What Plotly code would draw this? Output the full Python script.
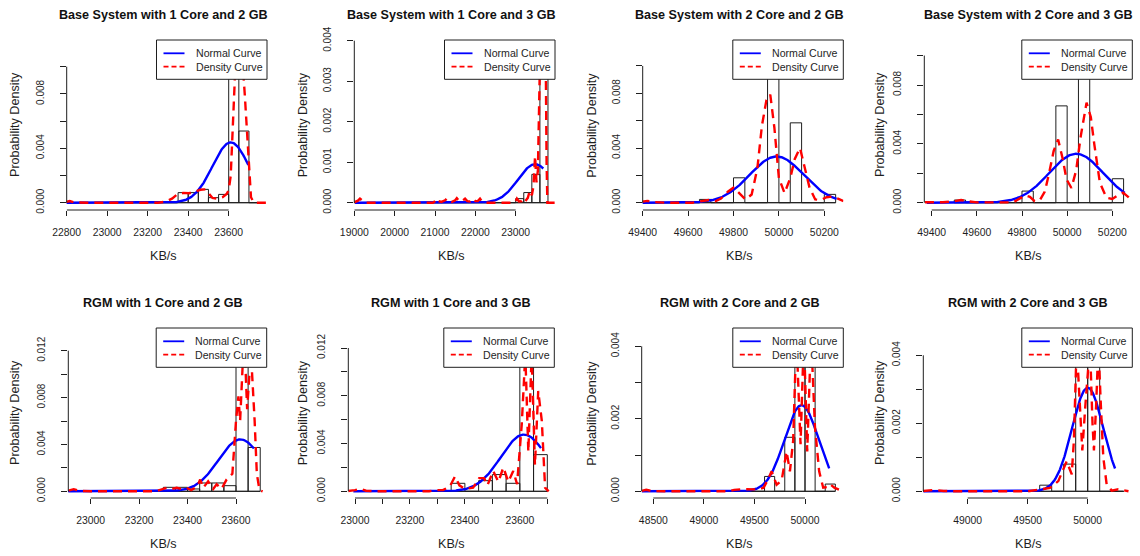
import numpy as np
import plotly.graph_objects as go

W, H = 1140, 556
FONT = "Liberation Sans, Arial, Helvetica, sans-serif"
INK = "#1e1e1e"
BLUE = "#0000ff"
RED = "#ff0000"

titles = [
    "Base System with 1 Core and 2 GB",
    "Base System with 1 Core and 3 GB",
    "Base System with 2 Core and 2 GB",
    "Base System with 2 Core and 3 GB",
    "RGM with 1 Core and 2 GB",
    "RGM with 1 Core and 3 GB",
    "RGM with 2 Core and 2 GB",
    "RGM with 2 Core and 3 GB",
]

# Histogram: first break, bin width and density of each bin
hist_start = [22800, 19000, 49400, 49500, 22900, 23000, 48400, 48600]
hist_width = [50, 200, 50, 50, 50, 50, 100, 100]

hist_b12 = [0] * 11 + [0.00074, 0.00074, 0.00098, 0.00037, 0.00061, 0.01129, 0.00527, 0]
hist_b13 = [0] * 20 + [0.0001, 0.00025, 0.0007, 0.0039]
hist_b22 = [0, 0, 0, 0, 0, 0.00024, 0, 0, 0.00182, 0, 0, 0.01149, 0, 0.00584, 0, 0, 0.00061]
hist_b23 = [0.00018, 0, 0, 0, 0, 0, 0.00079, 0, 0, 0.00658, 0, 0.01082, 0, 0, 0.00163]
hist_r12 = [0] * 8 + [0.00034, 0.00034, 0.0002, 0.00071, 0.00071, 0.00048, 0.0135, 0.00374]
hist_r13 = [0] * 7 + [0.00067, 0, 0.00089, 0.0014, 0.00067, 0.0133, 0.00307]
hist_r22 = [0] * 12 + [0.00041, 0, 0.00149, 0.0043, 0.0036, 0, 0.0002]
hist_r23 = [0] * 10 + [0.00018, 0, 0.0008, 0.0046, 0.0044, 0, 0]

# Normal curve parameters and the span it is drawn over
norm_mean = [23610, 23480, 49990, 50040, 23618, 23615, 49966, 50000]
norm_sd = [90, 420, 118, 120, 90, 84, 168, 131]
norm_from = [22792, 19017, 49390, 49378, 22905, 22994, 48385, 48630]
norm_to = [23697, 23684, 50254, 50255, 23674, 23677, 50239, 50228]

# Kernel density curves
dens_x_b12 = [22790, 22815, 22840, 22900, 23250, 23290, 23320, 23345, 23375, 23405, 23430,
              23460, 23485, 23505, 23520, 23545, 23570, 23590, 23600, 23610, 23620, 23628,
              23640, 23655, 23668, 23680, 23692, 23700, 23710, 23725, 23790]
dens_y_b12 = [0.00002, 0.00012, 0.00002, 0.0, 0.0, 0.00008, 0.0003, 0.0006, 0.00072, 0.0007,
              0.0008, 0.00095, 0.00098, 0.0006, 0.00035, 0.00028, 0.0004, 0.00065, 0.0009,
              0.002, 0.0055, 0.0095, 0.0125, 0.0125, 0.0105, 0.0078, 0.0047, 0.0022, 0.0004,
              0.0, 0.0]

dens_x_b13 = [19000, 19090, 19140, 19190, 19260, 20950, 21000, 21040, 21090, 21160, 21250,
              21290, 21340, 21420, 21500, 21540, 21590, 21660, 21710, 21745, 21800, 21870,
              21920, 21950, 22000, 22060, 22115, 22170, 22300, 22950, 23000, 23030, 23080,
              23150, 23190, 23240, 23300, 23350, 23400, 23440, 23480, 23515, 23550, 23580,
              23605, 23620, 23700, 23745, 23765, 23785, 23970]
dens_y_b13 = [0.00001, 0.00005, 0.0001, 0.00005, 0.0, 0.0, 0.00004, 0.0001, 0.00004, 0.00002,
              0.00006, 0.0001, 0.00004, 0.00002, 0.00006, 0.00011, 0.00005, 0.00003, 0.00007,
              0.0001, 0.00004, 0.00003, 0.00007, 0.0001, 0.00004, 0.00004, 0.0001, 0.00002,
              0.0, 0.0, 0.00004, 0.0001, 0.00003, 0.00004, 0.0001, 0.00004, 0.00012, 0.0003,
              0.00018, 0.0004, 0.00115, 0.0005, 0.0008, 0.0022, 0.0034, 0.0045, 0.0048,
              0.0035, 0.001, 0.0, 0.0]

dens_x_b22 = [49390, 49420, 49450, 49500, 49620, 49660, 49690, 49720, 49745, 49775, 49800,
              49825, 49853, 49880, 49905, 49925, 49945, 49962, 49980, 50000, 50025, 50050,
              50070, 50093, 50115, 50135, 50160, 50185, 50210, 50235, 50260, 50285]
dens_y_b22 = [0.00005, 0.00013, 0.00005, 0.0, 0.0, 0.00012, 0.0002, 0.0001, 0.0003, 0.0008,
              0.0011, 0.0007, 0.00024, 0.0006, 0.0025, 0.0056, 0.0075, 0.0079, 0.0055, 0.0018,
              0.0007, 0.0018, 0.0032, 0.004, 0.0025, 0.0011, 0.00024, 0.0002, 0.0004, 0.00045,
              0.0003, 0.00012]

dens_x_b23 = [49370, 49450, 49500, 49530, 49560, 49600, 49760, 49790, 49815, 49835, 49856,
              49880, 49901, 49920, 49940, 49960, 49980, 49997, 50019, 50040, 50060, 50086,
              50105, 50120, 50145, 50174, 50200, 50225, 50248, 50270, 50290]
dens_y_b23 = [0.00003, 0.00003, 0.0001, 0.00018, 0.0001, 0.00002, 0.00002, 0.0003, 0.0005,
              0.0004, 0.0001, 0.0002, 0.00075, 0.002, 0.0035, 0.0043, 0.003, 0.0016, 0.001,
              0.0022, 0.0045, 0.0068, 0.0058, 0.004, 0.00136, 0.00034, 0.00025, 0.0005,
              0.00068, 0.0004, 0.0001]

dens_x_r12 = [22908, 22930, 22955, 23000, 23270, 23295, 23315, 23335, 23355, 23375, 23395,
              23415, 23440, 23452, 23465, 23485, 23506, 23520, 23540, 23561, 23575, 23585,
              23600, 23610, 23617, 23628, 23638, 23646, 23656, 23666, 23677, 23686, 23697,
              23710]
dens_y_r12 = [0.00005, 0.00018, 0.00004, 0.0, 0.0, 0.0002, 0.0003, 0.0002, 0.0003, 0.0002,
              0.0003, 0.0001, 0.0004, 0.001, 0.0003, 0.00085, 0.0002, 0.0006, 0.0002, 0.001,
              0.0013, 0.0015, 0.006, 0.0081, 0.006, 0.011, 0.0112, 0.007, 0.0101, 0.0102,
              0.006, 0.0015, 0.0001, 0.0]

dens_x_r13 = [22975, 23000, 23018, 23040, 23080, 23270, 23297, 23320, 23345, 23364, 23380,
              23400, 23430, 23452, 23470, 23482, 23503, 23522, 23540, 23558, 23576, 23590,
              23607, 23620, 23631, 23643, 23655, 23667, 23680, 23692, 23705]
dens_y_r13 = [0.00003, 0.0001, 0.00022, 0.00005, 0.0, 0.0, 0.0001, 0.0001, 0.0004, 0.00125,
              0.0005, 0.0002, 0.0003, 0.0011, 0.0011, 0.0005, 0.0017, 0.0008, 0.002, 0.0008,
              0.0017, 0.0006, 0.0056, 0.0115, 0.0033, 0.0115, 0.0022, 0.0084, 0.0059, 0.0003,
              0.0]

dens_x_r22 = [48385, 48430, 48480, 48600, 49250, 49300, 49400, 49470, 49540, 49590, 49630,
              49670, 49719, 49769, 49818, 49851, 49883, 49915, 49956, 49989, 50022, 50060,
              50098, 50140, 50180, 50215, 50246, 50290, 50340, 50378]
dens_y_r22 = [0.00001, 0.00004, 0.00001, 0.0, 0.0, 0.00004, 0.00006, 0.00005, 0.00005,
              0.0001, 0.0003, 0.00055, 0.00018, 0.0003, 0.0011, 0.00055, 0.0014, 0.0043,
              0.0013, 0.0043, 0.0011, 0.0043, 0.0018, 0.00055, 0.0001, 0.00012, 0.0002,
              0.0001, 0.00003, 0.0]

dens_x_r23 = [48630, 48720, 48800, 48900, 49500, 49600, 49686, 49755, 49825, 49867, 49885,
              49908, 49935, 49955, 49980, 50019, 50040, 50052, 50070, 50089, 50110, 50130,
              50158, 50200, 50255, 50300, 50340]
dens_y_r23 = [0.00001, 0.00004, 0.00001, 0.0, 0.0, 0.00005, 0.0001, 0.0003, 0.00088, 0.0005,
              0.0015, 0.0043, 0.0025, 0.0012, 0.0025, 0.0043, 0.002, 0.0012, 0.0025, 0.0043,
              0.0025, 0.001, 0.0002, 0.00002, 0.00006, 0.00002, 0.0]

# Axis ticks and their labels
xticks = [
    [22800, 23000, 23200, 23400, 23600],
    [19000, 20000, 21000, 22000, 23000],
    [49400, 49600, 49800, 50000, 50200],
    [49400, 49600, 49800, 50000, 50200],
    [23000, 23200, 23400, 23600],
    [23000, 23100, 23200, 23300, 23400, 23500, 23600, 23700],
    [48500, 49000, 49500, 50000],
    [49000, 49500, 50000],
]
xlabels = [
    ["22800", "23000", "23200", "23400", "23600"],
    ["19000", "20000", "21000", "22000", "23000"],
    ["49400", "49600", "49800", "50000", "50200"],
    ["49400", "49600", "49800", "50000", "50200"],
    ["23000", "23200", "23400", "23600"],
    ["23000", "", "23200", "", "23400", "", "23600", ""],
    ["48500", "49000", "49500", "50000"],
    ["49000", "49500", "50000"],
]
yticks_10 = [0, 0.002, 0.004, 0.006, 0.008, 0.010]
ylabels_10 = ["0.000", "", "0.004", "", "0.008", ""]
yticks_4 = [0, 0.001, 0.002, 0.003, 0.004]
ylabels_4a = ["0.000", "0.001", "0.002", "0.003", "0.004"]
ylabels_4b = ["0.000", "", "0.002", "", "0.004"]
yticks_12 = [0, 0.002, 0.004, 0.006, 0.008, 0.010, 0.012]
ylabels_12 = ["0.000", "", "0.004", "", "0.008", "", "0.012"]

hists = [hist_b12, hist_b13, hist_b22, hist_b23, hist_r12, hist_r13, hist_r22, hist_r23]
dens = [(dens_x_b12, dens_y_b12), (dens_x_b13, dens_y_b13), (dens_x_b22, dens_y_b22),
        (dens_x_b23, dens_y_b23), (dens_x_r12, dens_y_r12), (dens_x_r13, dens_y_r13),
        (dens_x_r22, dens_y_r22), (dens_x_r23, dens_y_r23)]
yticks = [yticks_10, yticks_4, yticks_10, yticks_10, yticks_12, yticks_12, yticks_4, yticks_4]
ylabels = [ylabels_10, ylabels_4a, ylabels_10, ylabels_10, ylabels_12, ylabels_12,
           ylabels_4b, ylabels_4b]

# ---- page geometry (pixels) ----
# plot box: left, right, top, bottom; axis calibration: value/pixel pairs
boxes = [
    (66.7, 267.0, 40, 210), (354.3, 555.0, 40, 210), (642.7, 843.3, 40, 210),
    (924.3, 1132.3, 40, 210), (68.3, 266.7, 328, 498), (348.3, 554.3, 328, 498),
    (641.7, 843.3, 328, 498), (923.3, 1132.3, 328, 498),
]
xcal = [
    (22800, 66.7, 23600, 228.7), (19000, 354.3, 23000, 515.7), (49400, 642.7, 50200, 824.3),
    (49400, 931.7, 50200, 1112.3), (23000, 90.7, 23600, 236.0), (23000, 355.0, 23700, 547.3),
    (48500, 653.3, 50000, 805.0), (49000, 967.7, 50000, 1087.7),
]
ycal = [
    (0, 202.7, 0.010, 66.7), (0, 202.7, 0.004, 40.7), (0, 202.7, 0.008, 93.3),
    (0, 202.7, 0.008, 85.0), (0, 491.3, 0.012, 350.7), (0, 491.3, 0.012, 348.0),
    (0, 491.3, 0.004, 346.3), (0, 491.3, 0.004, 355.3),
]
col_center = [163, 451, 739.5, 1028]
ylab_x = [15, 303.3, 591.7, 880]
row_title_y = [15, 303]
row_xlab_y = [256, 544]
row_ylab_y = [125, 413]
LEG_W, LEG_H = 110.5, 39.3


def px(x):
    return x / W


def py(y):
    return 1 - y / H


def calib(c, p):
    v0, p0, v1, p1 = c
    return v0 + (p - p0) * (v1 - v0) / (p1 - p0)


fig = go.Figure()
shapes, annots = [], []
layout = dict(
    width=W, height=H, margin=dict(l=0, r=0, t=0, b=0, autoexpand=False),
    paper_bgcolor="white", plot_bgcolor="white", showlegend=False,
    font=dict(family=FONT, color=INK),
)

for i in range(8):
    n = i + 1
    xr = "x" if n == 1 else f"x{n}"
    yr = "y" if n == 1 else f"y{n}"
    xk = "xaxis" if n == 1 else f"xaxis{n}"
    yk = "yaxis" if n == 1 else f"yaxis{n}"
    l, r, t, b = boxes[i]
    col, row = i % 4, i // 4

    # histogram bars
    start, width = hist_start[i], hist_width[i]
    heights = hists[i]
    centers = [start + width * (k + 0.5) for k in range(len(heights))]
    fig.add_trace(go.Bar(
        x=centers, y=heights, width=width, xaxis=xr, yaxis=yr,
        marker=dict(color="rgba(0,0,0,0)", line=dict(color=INK, width=1)),
        hoverinfo="skip",
    ))
    shapes.append(dict(type="line", xref=xr, yref=yr, x0=start,
                       x1=start + width * len(heights), y0=0, y1=0,
                       line=dict(color=INK, width=1), layer="below"))

    # fitted normal curve
    xs = np.linspace(norm_from[i], norm_to[i], 300)
    mu, sd = norm_mean[i], norm_sd[i]
    ys = np.exp(-0.5 * ((xs - mu) / sd) ** 2) / (sd * np.sqrt(2 * np.pi))
    fig.add_trace(go.Scatter(x=xs, y=ys, mode="lines", xaxis=xr, yaxis=yr,
                             line=dict(color=BLUE, width=2.4), hoverinfo="skip"))

    # kernel density curve
    dx, dy = dens[i]
    fig.add_trace(go.Scatter(x=dx, y=dy, mode="lines", xaxis=xr, yaxis=yr,
                             line=dict(color=RED, width=2.4, dash="9px,6px"),
                             hoverinfo="skip"))

    layout[xk] = dict(
        domain=[px(l), px(r)], range=[calib(xcal[i], l), calib(xcal[i], r)],
        anchor=yr, automargin=False, tickmode="array", tickvals=xticks[i],
        ticktext=xlabels[i], ticks="outside", ticklen=5, tickwidth=1, tickcolor=INK,
        showline=False, showgrid=False, zeroline=False,
        tickfont=dict(size=10.4, color=INK, family=FONT), ticklabelstandoff=8,
    )
    layout[yk] = dict(
        domain=[py(b), py(t)], range=[calib(ycal[i], b), calib(ycal[i], t)],
        anchor=xr, automargin=False, tickmode="array", tickvals=yticks[i],
        ticktext=ylabels[i], ticks="outside", ticklen=6, tickwidth=1, tickcolor=INK,
        tickangle=-90, showline=False, showgrid=False, zeroline=False,
        tickfont=dict(size=10, color=INK, family=FONT), ticklabelstandoff=12,
    )

    # detached axis lines spanning the tick range
    shapes.append(dict(type="line", xref=xr, yref=f"{yr} domain",
                       x0=xticks[i][0], x1=xticks[i][-1], y0=0, y1=0,
                       line=dict(color=INK, width=1)))
    shapes.append(dict(type="line", xref=f"{xr} domain", yref=yr,
                       x0=0, x1=0, y0=yticks[i][0], y1=yticks[i][-1],
                       line=dict(color=INK, width=1)))

    # legend box in the top-right corner of the plot region
    ll, lt = r - LEG_W, t
    shapes.append(dict(type="rect", xref="paper", yref="paper",
                       x0=px(ll), x1=px(r), y0=py(lt + LEG_H), y1=py(lt),
                       fillcolor="white", line=dict(color=INK, width=1), layer="above"))
    shapes.append(dict(type="line", xref="paper", yref="paper",
                       x0=px(ll + 7), x1=px(ll + 28), y0=py(lt + 13.3), y1=py(lt + 13.3),
                       line=dict(color=BLUE, width=1.8), layer="above"))
    shapes.append(dict(type="line", xref="paper", yref="paper",
                       x0=px(ll + 7), x1=px(ll + 28), y0=py(lt + 26.7), y1=py(lt + 26.7),
                       line=dict(color=RED, width=1.8, dash="5px,3px"), layer="above"))
    for txt, dyy in (("Normal Curve", 13.3), ("Density Curve", 26.7)):
        annots.append(dict(xref="paper", yref="paper", x=px(ll + 37), y=py(lt + dyy),
                           text=txt, showarrow=False, xanchor="left", yanchor="middle",
                           font=dict(size=10.6, color=INK, family=FONT)))

    # titles and axis labels
    annots.append(dict(xref="paper", yref="paper", x=px(col_center[col]),
                       y=py(row_title_y[row]), text=f"<b>{titles[i]}</b>", showarrow=False,
                       xanchor="center", yanchor="middle",
                       font=dict(size=12.6, color="#111111", family=FONT)))
    annots.append(dict(xref="paper", yref="paper", x=px(col_center[col]),
                       y=py(row_xlab_y[row]), text="KB/s", showarrow=False,
                       xanchor="center", yanchor="middle",
                       font=dict(size=12.6, color=INK, family=FONT)))
    annots.append(dict(xref="paper", yref="paper", x=px(ylab_x[col]),
                       y=py(row_ylab_y[row]), text="Probability Density", showarrow=False,
                       textangle=-90, xanchor="center", yanchor="middle",
                       font=dict(size=12.6, color=INK, family=FONT)))

layout["shapes"] = shapes
layout["annotations"] = annots
fig.update_layout(**layout)
fig.write_html("out.html")
